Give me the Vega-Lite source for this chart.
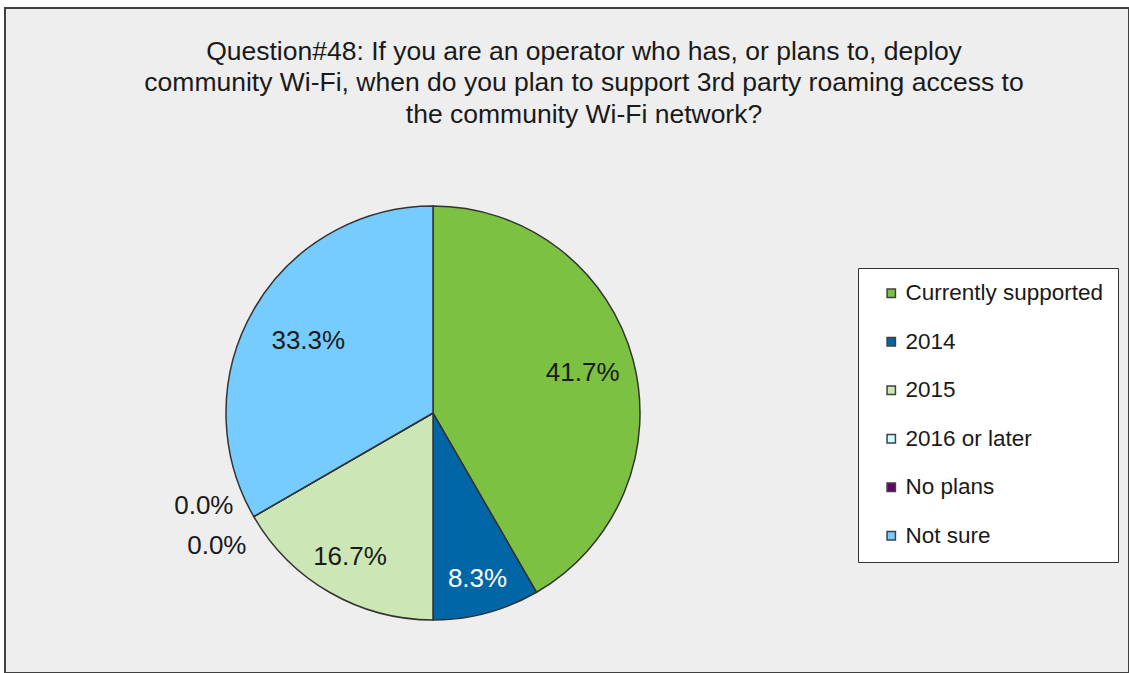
{
  "$schema": "https://vega.github.io/schema/vega-lite/v6.json",
  "autosize": {"type": "none"},
  "width": 1124,
  "height": 665,
  "padding": {"left": 5, "top": 8, "right": 0, "bottom": 0},
  "background": "white",
  "view": {"fill": "#eeeeee", "stroke": "#404040", "strokeWidth": 2},
  "config": {"font": "Liberation Sans"},
  "title": {
    "text": [
      "Question#48: If you are an operator who has, or plans to, deploy",
      "community Wi-Fi, when do you plan to support 3rd party roaming access to",
      "the community Wi-Fi network?"
    ],
    "anchor": "middle",
    "orient": "top",
    "baseline": "top",
    "offset": -120,
    "dx": 17,
    "fontSize": 26.5,
    "fontWeight": "normal",
    "color": "#1a1a1a",
    "lineHeight": 31.5
  },
  "data": {
    "values": [
      {"answer": "Currently supported", "count": 5, "label": "41.7%"},
      {"answer": "2014", "count": 1, "label": "8.3%"},
      {"answer": "2015", "count": 2, "label": "16.7%"},
      {"answer": "2016 or later", "count": 0, "label": "0.0%"},
      {"answer": "No plans", "count": 0, "label": "0.0%"},
      {"answer": "Not sure", "count": 4, "label": "33.3%"}
    ]
  },
  "encoding": {
    "theta": {"field": "count", "type": "quantitative", "stack": true},
    "order": {"field": "idx", "type": "quantitative"}
  },
  "transform": [{"window": [{"op": "row_number", "as": "idx"}]}],
  "layer": [
    {
      "mark": {"type": "arc", "outerRadius": 207, "x": 428, "y": 405, "stroke": "#333333", "strokeWidth": 1.5},
      "encoding": {
        "color": {
          "field": "answer",
          "type": "nominal",
          "sort": ["Currently supported", "2014", "2015", "2016 or later", "No plans", "Not sure"],
          "scale": {
            "domain": ["Currently supported", "2014", "2015", "2016 or later", "No plans", "Not sure"],
            "range": ["#7cc142", "#0066a6", "#cce6b5", "#ccffff", "#660066", "#77ccff"]
          },
          "legend": {
            "title": null,
            "orient": "none",
            "legendX": 853,
            "legendY": 260,
            "symbolType": "square",
            "symbolSize": 70,
            "symbolStrokeColor": "#404040",
            "symbolStrokeWidth": 1.5,
            "symbolOffset": 8,
            "labelFontSize": 22.5,
            "labelColor": "#1a1a1a",
            "labelOffset": 3,
            "labelLimit": 300,
            "rowPadding": 25.5,
            "padding": 14,
            "strokeColor": "#333333",
            "fillColor": "white"
          }
        }
      }
    },
    {
      "mark": {
        "type": "text",
        "x": 428,
        "y": 405,
        "fontSize": 26,
        "align": "center",
        "baseline": "middle",
        "radius": {"expr": "datum.answer == 'Currently supported' ? 155 : datum.answer == '2014' ? 172 : datum.answer == '2015' ? 166 : datum.answer == 'Not sure' ? 144 : 245"},
        "dx": {"expr": "datum.answer == '2016 or later' ? -17 : datum.answer == 'No plans' ? -4 : 0"},
        "dy": {"expr": "datum.answer == '2016 or later' ? -30 : datum.answer == 'No plans' ? 10 : 0"}
      },
      "encoding": {
        "text": {"field": "label"},
        "color": {
          "condition": {"test": "datum.answer == '2014'", "value": "white"},
          "value": "#1a1a1a"
        }
      }
    }
  ]
}
